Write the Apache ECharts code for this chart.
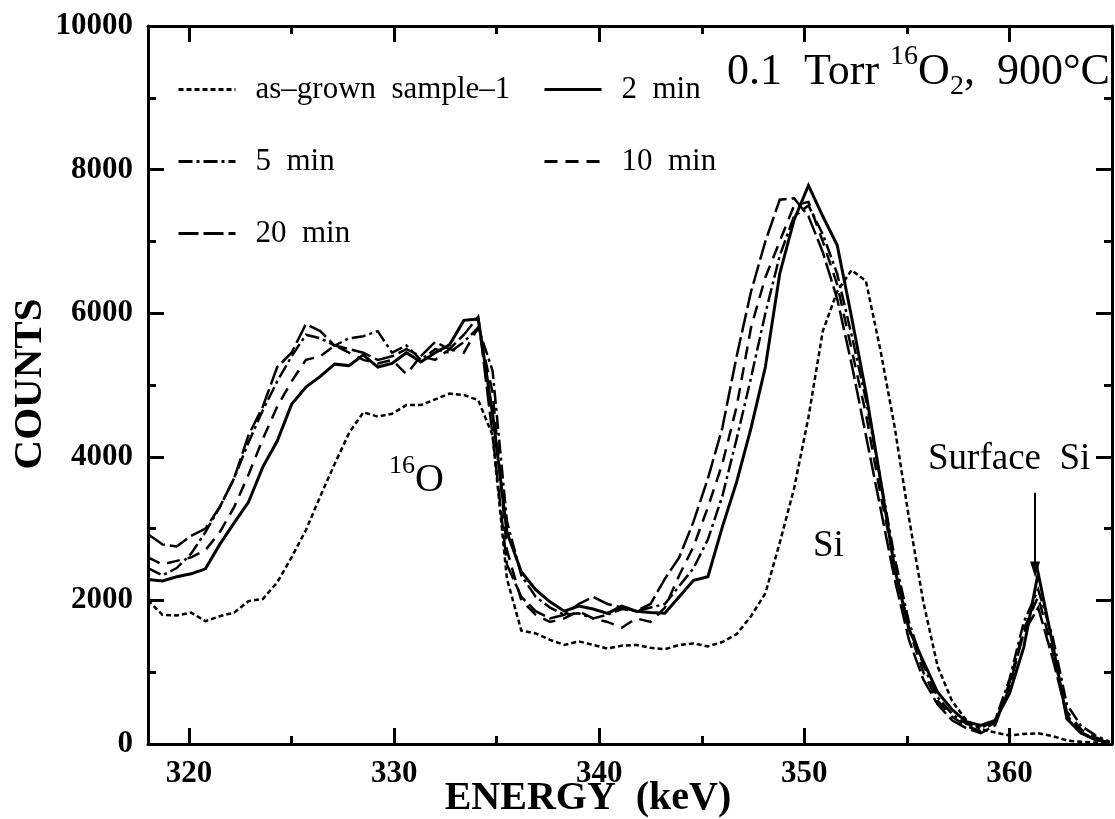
<!DOCTYPE html>
<html><head><meta charset="utf-8">
<script src="https://cdn.jsdelivr.net/npm/echarts@6/dist/echarts.min.js"></script>
<style>html,body{margin:0;padding:0;background:#fff}#c{width:1115px;height:819px}</style>
</head><body><div id="c"></div>
<script>
// Energy channels (keV)
const energy = [318.0,318.7,319.4,320.1,320.8,321.5,322.2,322.9,323.6,324.3,325.0,325.7,326.4,327.1,327.8,328.5,329.2,329.9,330.6,331.3,332.0,332.7,333.4,334.1,334.8,335.5,336.2,336.9,337.6,338.3,339.0,339.7,340.4,341.1,341.8,342.5,343.2,343.9,344.6,345.3,346.0,346.7,347.4,348.1,348.8,349.5,350.2,350.9,351.6,352.3,353.0,353.7,354.4,355.1,355.8,356.5,357.2,357.9,358.6,359.3,360.0,360.7,361.4,362.1,362.8,363.5,364.2,364.9];
// Counts per series
const asGrown = [2000,1800,1790,1830,1710,1780,1830,1990,2020,2250,2600,2980,3450,3900,4330,4620,4560,4600,4720,4720,4800,4880,4860,4790,4300,2300,1580,1540,1450,1380,1430,1380,1330,1370,1380,1340,1320,1380,1400,1360,1420,1530,1780,2100,2800,3560,4550,5750,6300,6600,6450,5500,4420,3150,1980,1080,600,330,210,160,120,140,150,110,50,30,20,0];
const min2 = [2290,2270,2330,2370,2440,2780,3080,3370,3860,4220,4730,4970,5120,5290,5270,5420,5250,5300,5450,5320,5450,5560,5900,5920,4600,2950,2400,2150,1980,1850,1920,1880,1820,1920,1850,1830,1820,2050,2280,2330,3020,3650,4400,5250,6550,7300,7780,7350,6950,5950,4900,3700,2450,1600,1150,720,480,310,260,330,700,1350,2380,1400,350,150,60,20];
const min5 = [2450,2350,2450,2650,2950,3300,3700,4200,4650,5050,5400,5700,5650,5550,5650,5680,5750,5450,5550,5350,5500,5450,5600,5800,5200,3100,2350,2050,1900,1800,1820,1750,1800,1880,1850,1900,1950,2200,2450,2850,3450,4250,5100,6000,6800,7350,7500,7100,6550,5700,4800,3700,2600,1700,1100,650,420,280,220,330,900,1700,2150,1500,550,250,120,30];
const min10 = [2600,2500,2550,2600,2700,2950,3300,3750,4250,4700,5050,5350,5400,5550,5450,5350,5300,5350,5150,5400,5350,5500,5450,5800,4900,2700,2000,1800,1700,1750,1850,1750,1700,1620,1750,1700,1900,2350,2750,3300,3900,4700,5800,6500,7000,7500,7550,7000,6400,5500,4600,3500,2500,1600,1000,600,380,250,180,300,850,1600,2050,1300,450,200,90,20];
const min20 = [2920,2780,2750,2900,3000,3300,3700,4300,4700,5250,5450,5850,5750,5550,5500,5450,5350,5400,5500,5400,5600,5500,5700,5950,4300,2500,2050,1850,1750,1800,1950,2050,1950,1900,1850,1950,2300,2600,3100,3700,4400,5400,6300,7000,7580,7600,7350,6850,6200,5300,4300,3300,2300,1450,900,550,330,220,150,260,800,1550,1900,1200,400,160,70,10];
const seriesNames = ['as\u2013grown  sample\u20131','2  min','5  min','10  min','20  min'];
const xMajor = [320,330,340,350,360];
const xMinor = [325,335,345,355];
const arrowAt = {x: 361.25, from: 3500, to: 2430};

const serif = "'Liberation Serif','Times New Roman',serif";
const black = '#000';
const pairs = arr => arr.map((v,i)=>[energy[i], v]);

const frame = {color: black, width: 3};
const plain = v => String(v);
function xAx(pos, ticks, len, line, labels){
  return {type:'value', min:318, max:365, position:pos, gridIndex:0,
    axisLine:{show:line, onZero:false, lineStyle:frame},
    axisTick:{show:true, inside:true, length:len, customValues:ticks, lineStyle:{color:black,width:3}},
    axisLabel: labels ? {show:true, customValues:ticks, margin:14, color:black, fontSize:31, fontWeight:'bold', fontFamily:serif, formatter:plain} : {show:false},
    splitLine:{show:false}};
}
function yAx(pos, labels){
  return {type:'value', min:0, max:10000, interval:2000, position:pos, gridIndex:0,
    axisLine:{show:true, onZero:false, lineStyle:frame},
    axisTick:{show:true, inside:true, length:16, lineStyle:{color:black,width:3}},
    minorTick:{show:true, splitNumber:2, length:8, lineStyle:{color:black,width:3}},
    axisLabel: labels ? {show:true, margin:15, color:black, fontSize:31, fontWeight:'bold', fontFamily:serif, formatter:plain} : {show:false},
    splitLine:{show:false}, minorSplitLine:{show:false}};
}
const styles = [
  {width:2.5, type:[5,3]},
  {width:3, type:'solid'},
  {width:2.5, type:[14,4,3,4]},
  {width:2.5, type:[13,8]},
  {width:2.5, type:[20,5]}
];
const dataSets = [asGrown, min2, min5, min10, min20];
const series = dataSets.map((d,i)=>({
  type:'line', name:seriesNames[i], data:pairs(d), xAxisIndex:0, yAxisIndex:0,
  symbol:'none', showSymbol:false, clip:true,
  lineStyle:Object.assign({color:black, cap:'butt', join:'miter'}, styles[i]),
  itemStyle:{color:black}, z: 3
}));
series[1].markLine = {silent:true, symbol:['none','triangle'], symbolSize:[10,16],
  lineStyle:{color:black, width:2, type:'solid'}, label:{show:false},
  data:[[{coord:[arrowAt.x, arrowAt.from]},{coord:[arrowAt.x, arrowAt.to]}]]};

const legendText = {color:black, fontSize:31, fontFamily:serif, padding:[0,0,0,15]};
const legendBase = {orient:'vertical', top:69, itemWidth:57, itemHeight:28, itemGap:41,
  textStyle:legendText, selectedMode:false, itemStyle:{opacity:0, borderWidth:0},
  lineStyle:{width:3}};
const chart = echarts.init(document.getElementById('c'), null, {renderer:'canvas'});
chart.setOption({
  animation:false,
  backgroundColor:'#fff',
  grid:{left:148, right:3, top:26, bottom:75, containLabel:false},
  xAxis:[xAx('bottom', xMajor, 16, true, true), xAx('bottom', xMinor, 8, false, false),
         xAx('top', xMajor, 16, true, false), xAx('top', xMinor, 8, false, false)],
  yAxis:[yAx('left', true), yAx('right', false)],
  legend:[
    Object.assign({data:[seriesNames[0], seriesNames[2], seriesNames[4]], left:172}, legendBase),
    Object.assign({data:[seriesNames[1], seriesNames[3]], left:538}, legendBase)
  ],
  graphic:[
    {type:'text', x:727, y:72, style:{text:'{n|0.1}{g|  }{n|Torr}{g| }{sup|16}{n|O}{sub|2}{n|,}{g|  }{n|900°C}', fill:black,
      align:'left', verticalAlign:'middle',
      rich:{n:{fontSize:44, fontFamily:serif, lineHeight:58, verticalAlign:'middle', fill:black},
            g:{fontSize:44, fontFamily:serif, lineHeight:58, verticalAlign:'middle', fill:black},
            sup:{fontSize:28, fontFamily:serif, lineHeight:26, verticalAlign:'top', fill:black},
            sub:{fontSize:28, fontFamily:serif, lineHeight:34, verticalAlign:'bottom', fill:black}}}},
    {type:'text', x:389, y:480, style:{text:'{sup|16}{n|O}', fill:black, align:'left', verticalAlign:'middle',
      rich:{n:{fontSize:40, fontFamily:serif, lineHeight:54, verticalAlign:'middle', fill:black},
            sup:{fontSize:26, fontFamily:serif, lineHeight:24, verticalAlign:'top', fill:black}}}},
    {type:'text', x:813, y:546, style:{text:'Si', fill:black, font:'37px '+serif, align:'left', verticalAlign:'middle'}},
    {type:'text', x:928, y:459, style:{text:'Surface  Si', fill:black, font:'37px '+serif, align:'left', verticalAlign:'middle'}},
    {type:'text', x:588, y:799, style:{text:'ENERGY  (keV)', fill:black, font:'bold 40px '+serif, align:'center', verticalAlign:'middle'}},
    {type:'text', x:30, y:384, rotation:Math.PI/2, style:{text:'COUNTS', fill:black, font:'bold 41px '+serif, align:'center', verticalAlign:'middle'}}
  ],
  series: series
});
</script></body></html>
